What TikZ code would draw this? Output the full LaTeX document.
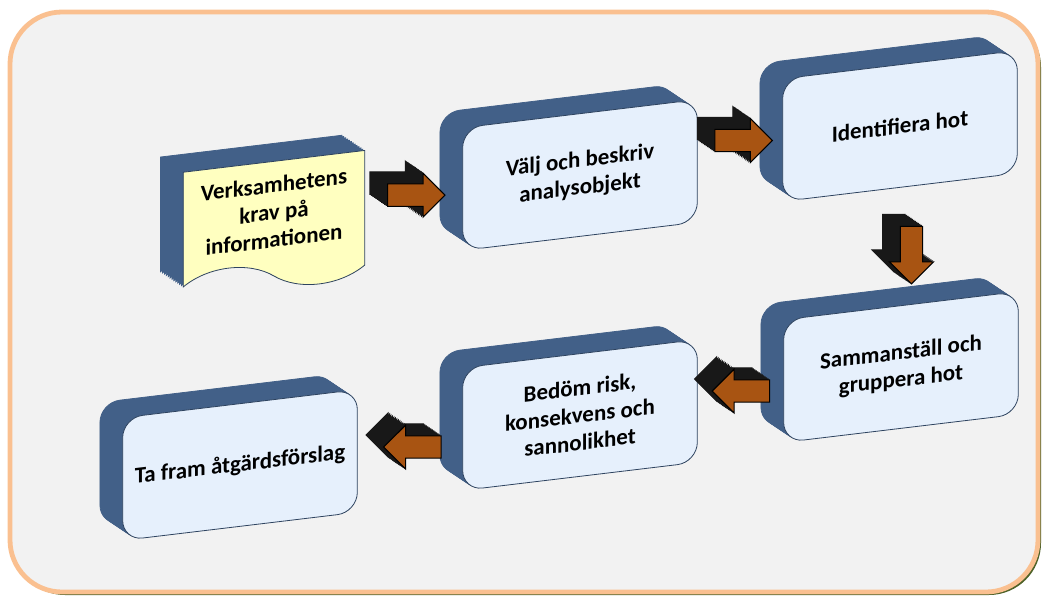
\documentclass[tikz,border=0pt]{standalone}
\usepackage{fontspec}
\setmainfont{Carlito}
\usetikzlibrary{positioning,calc,shapes.arrows,shapes.symbols,shadows}
\definecolor{framefill}{RGB}{242,242,242}
\definecolor{frameorange}{RGB}{250,192,144}
\definecolor{frameshade}{RGB}{79,98,40}
\definecolor{slabfront}{RGB}{230,240,252}
\definecolor{slabside}{RGB}{66,96,136}
\definecolor{docyellow}{RGB}{255,255,192}
\definecolor{arrbrown}{RGB}{168,84,18}
\definecolor{arrside}{RGB}{24,24,24}
\begin{document}
\begin{tikzpicture}[
  x=0.75pt,y=-0.75pt,
  slabdepth/.style={copy shadow={shadow xshift={-1.42pt*#1},shadow yshift={0.95pt*#1},
    fill=slabside,draw=slabside}},
  slab/.style={draw=slabside!70!black,line width=0.6pt,fill=slabfront,rounded corners=15pt,
    minimum width=176pt,minimum height=92pt,yslant=0.12,align=center,
    font=\fontsize{17.2}{20.5}\selectfont\bfseries,slabdepth/.list={12,11,10,9,8,7,6,5,4,3,2,1}},
  docslab/.style={tape,tape bend top=none,tape bend bottom=out and in,tape bend height=20pt,
    draw=slabside!70!black,line width=0.6pt,fill=docyellow,
    minimum width=136pt,minimum height=96pt,yslant=0.12,align=center,
    font=\fontsize{17.2}{20.5}\selectfont\bfseries,slabdepth/.list={12,11,10,9,8,7,6,5,4,3,2,1}},
  arrdepth/.style={copy shadow={shadow xshift={-1.1pt*#1},shadow yshift={0.75pt*#1},
    fill=arrside,draw=arrside}},
  barr/.style={single arrow,single arrow head extend=8pt,minimum height=43pt,
    inner xsep=0pt,inner ysep=8pt,fill=arrbrown,draw=black,line width=0.8pt,
    arrdepth/.list={12,11,10,9,8,7,6,5,4,3,2,1}}
]
  \useasboundingbox (0,0) rectangle (1043,597);
  % Frame
  \fill[frameshade,rounded corners=39pt] (13,15) rectangle (1041,595);
  \draw[frameorange,fill=framefill,line width=3.6pt,rounded corners=39pt] (10,12) rectangle (1038,592);
  % Input
  \node[docslab] (krav) at (274,212) {Verksamhetens\\krav på\\informationen};
  % Steps
  \node[slab] (valj) at (580,175) {Välj och beskriv\\analysobjekt};
  \node[slab] (ident) at (900,126) {Identifiera hot};
  \node[slab] (samm) at (901,367) {Sammanställ och\\gruppera hot};
  \node[slab] (bedom) at (580,415) {Bedöm risk,\\konsekvens och\\sannolikhet};
  \node[slab] (atg) at (240,465) {Ta fram åtgärdsförslag};
  % Arrows
  \node[barr] (a1) at ($(krav.east)!.5!(valj.west)+(-3,0)$) {};
  \node[barr] (a2) at ($(valj.east)!.5!(ident.west)+(-2,-10)$) {};
  \node[barr,rotate=-90] (a3) at ($(ident.south)!.5!(samm.north)+(11,3)$) {};
  \node[barr,rotate=180] (a4) at ($(samm.west)!.5!(bedom.east)+(6,0)$) {};
  \node[barr,rotate=180] (a5) at ($(bedom.west)!.5!(atg.east)+(8,7)$) {};
\end{tikzpicture}
\end{document}
